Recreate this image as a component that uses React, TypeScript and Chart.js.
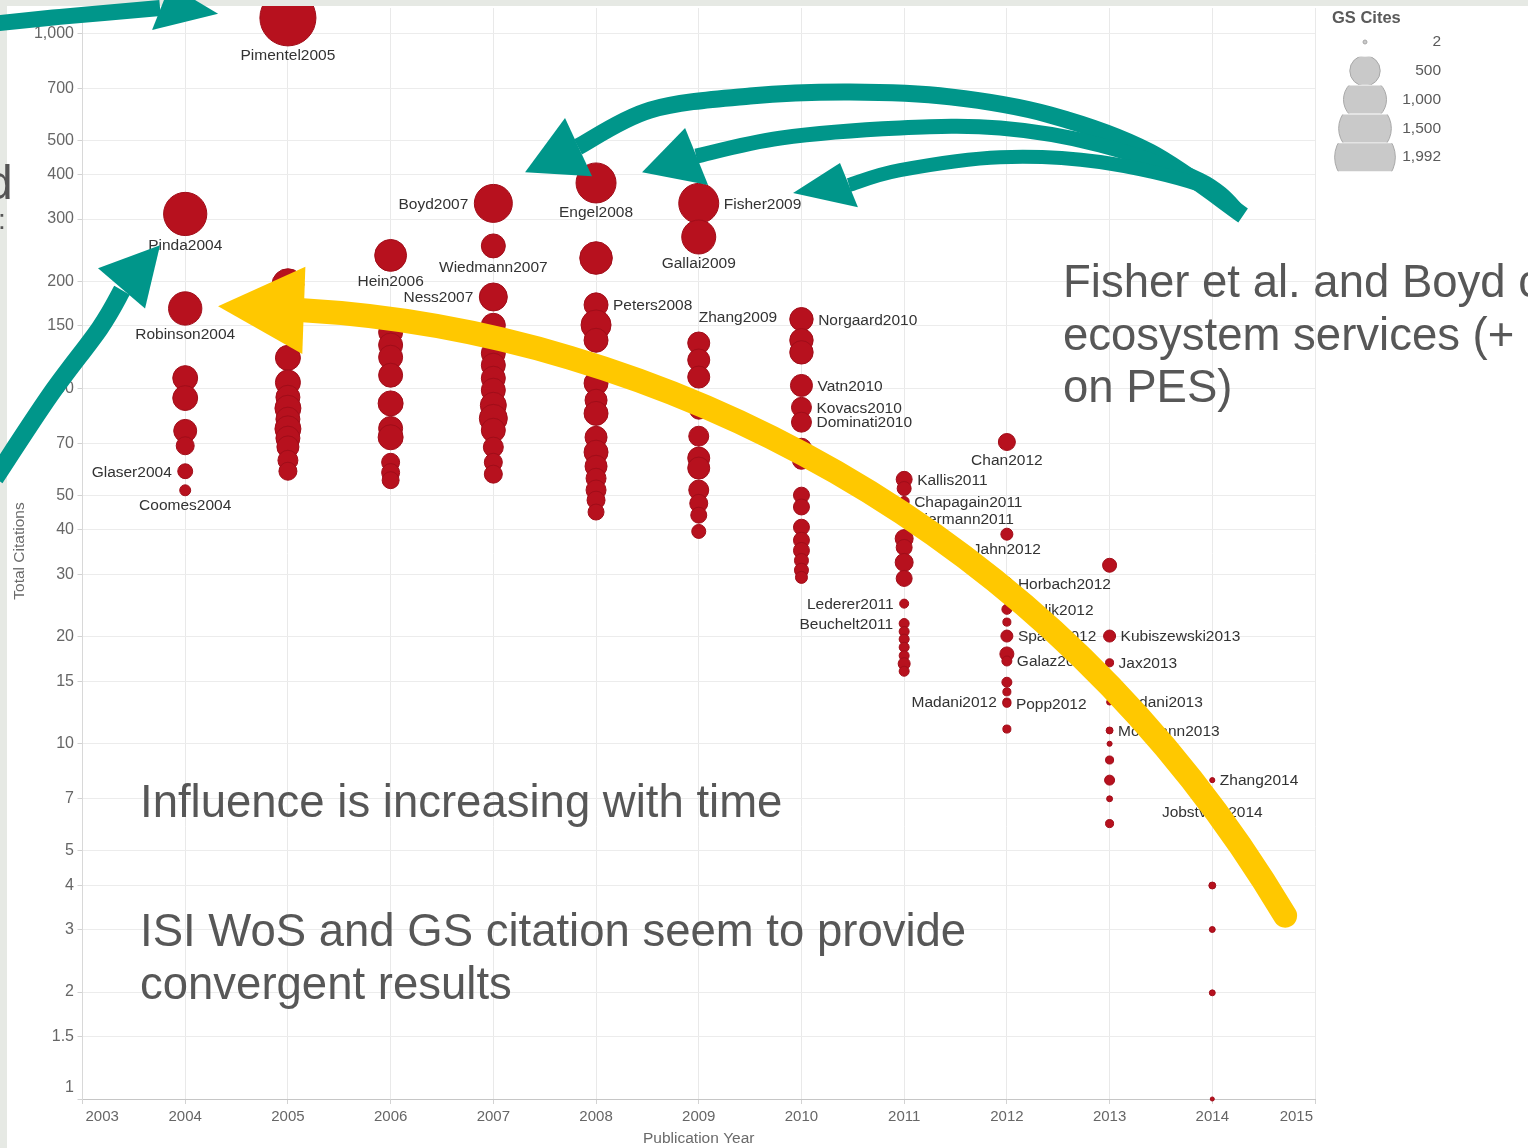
import React, { useEffect, useRef } from 'react';
import { Chart, registerables } from 'chart.js';

Chart.register(...registerables);

const FONT = '"Liberation Sans", Arial, Helvetica, sans-serif';

// ---- axes ----
const yearTicks = [2003, 2004, 2005, 2006, 2007, 2008, 2009, 2010, 2011, 2012, 2013, 2014, 2015];
const citationTicks = [1, 1.5, 2, 3, 4, 5, 7, 10, 15, 20, 30, 40, 50, 70, 100, 150, 200, 300, 400, 500, 700, 1000];
const legendGsCites = [2, 500, 1000, 1500, 1992];

// ---- data: total citations (ISI WoS) and GS cites per paper, by publication year ----
const cites2004 = [310, 168, 107, 94, 76, 69, 58.5, 51.7];
const gs2004 = [1010, 600, 335, 335, 285, 175, 120, 65];

const cites2005 = [1105, 196, 122, 104, 94.5, 88, 82, 77, 72.5, 68.5, 62.8, 58.5];
const gs2005 = [1700, 550, 338, 338, 311, 365, 311, 365, 311, 262, 216, 175];

const cites2006 = [237, 144, 132.5, 122.5, 109, 90.8, 77.2, 72.9, 62, 58, 55.2];
const gs2006 = [550, 311, 311, 311, 311, 338, 311, 338, 175, 175, 156];

const cites2007 = [332, 252, 181, 150.7, 136.7, 125.7, 116.3, 106.9, 98.9, 89.7, 82.4, 76.3, 68.4, 62, 57.4];
const gs2007 = [780, 311, 424, 311, 311, 311, 311, 311, 311, 365, 424, 311, 216, 175, 175];

const cites2008 = [379, 233, 172, 151, 136.7, 103.5, 92.7, 85.1, 72.9, 66.2, 60.4, 55.9, 51.8, 48.5, 44.9];
const gs2008 = [865, 575, 311, 487, 311, 311, 262, 311, 262, 311, 262, 216, 216, 175, 138];

const cites2009 = [332, 267, 134.3, 120.3, 107.7, 86.9, 73.4, 63.7, 59.7, 51.8, 47.5, 44, 39.6];
const gs2009 = [865, 625, 262, 262, 262, 175, 216, 262, 262, 216, 175, 138, 106];

const cites2010 = [156.7, 136.7, 126.4, 102, 88.5, 80.4, 67.9, 62.8, 50.1, 46.4, 40.7, 37.4, 35, 32.8, 30.8, 29.4];
const gs2010 = [296, 296, 296, 262, 216, 216, 216, 175, 138, 138, 138, 138, 138, 106, 106, 78];

const cites2011 = [55.5, 52.3, 48.1, 43.1, 37.8, 35.7, 32.4, 29.2, 24.8, 21.8, 20.7, 19.7, 18.7, 17.7, 16.8, 16.0];
const gs2011 = [138, 106, 54, 54, 175, 138, 175, 138, 44, 54, 54, 54, 54, 54, 78, 54];

const cites2012 = [70.7, 38.9, 28.3, 23.9, 22, 20.1, 17.9, 17.1, 14.9, 14, 13.1, 13.0, 11];
const gs2012 = [156, 78, 78, 54, 35, 78, 106, 54, 54, 35, 35, 35, 35];

const cites2013 = [31.8, 20.1, 16.9, 13.1, 10.9, 10, 9, 7.9, 7, 5.96];
const gs2013 = [106, 78, 35, 19, 26, 14, 35, 54, 19, 35];

const cites2014 = [7.9, 6.9, 3.99, 3, 1.99, 1.0];
const gs2014 = [14, 9, 26, 19, 19, 9];

const publicationYears = [2004, 2005, 2006, 2007, 2008, 2009, 2010, 2011, 2012, 2013, 2014];
const citesByYear = [cites2004, cites2005, cites2006, cites2007, cites2008, cites2009, cites2010, cites2011, cites2012, cites2013, cites2014];
const gsByYear = [gs2004, gs2005, gs2006, gs2007, gs2008, gs2009, gs2010, gs2011, gs2012, gs2013, gs2014];

// labelled papers: [year, index within that year, label]
const paperLabels: [number, number, string][] = [
  [2004, 0, 'Pinda2004'], [2004, 1, 'Robinson2004'], [2004, 6, 'Glaser2004'], [2004, 7, 'Coomes2004'],
  [2005, 0, 'Pimentel2005'],
  [2006, 0, 'Hein2006'],
  [2007, 0, 'Boyd2007'], [2007, 1, 'Wiedmann2007'], [2007, 2, 'Ness2007'],
  [2008, 0, 'Engel2008'], [2008, 2, 'Peters2008'],
  [2009, 0, 'Fisher2009'], [2009, 1, 'Gallai2009'], [2009, 2, 'Zhang2009'],
  [2010, 0, 'Norgaard2010'], [2010, 3, 'Vatn2010'], [2010, 4, 'Kovacs2010'], [2010, 5, 'Dominati2010'],
  [2011, 0, 'Kallis2011'], [2011, 2, 'Chapagain2011'], [2011, 3, 'Biermann2011'], [2011, 8, 'Lederer2011'], [2011, 9, 'Beuchelt2011'],
  [2012, 0, 'Chan2012'], [2012, 1, 'Jahn2012'], [2012, 2, 'Horbach2012'], [2012, 3, 'Pahlik2012'], [2012, 5, 'Spash2012'],
  [2012, 7, 'Galaz2012'], [2012, 10, 'Madani2012'], [2012, 11, 'Popp2012'],
  [2013, 1, 'Kubiszewski2013'], [2013, 2, 'Jax2013'], [2013, 3, 'Madani2013'], [2013, 4, 'Mollmann2013'],
  [2014, 0, 'Zhang2014'], [2014, 1, 'Jobstvogt2014'],
];

// label placement (style)
const labelSide: Record<string, string> = {
  Pinda2004: 'below', Robinson2004: 'below', Glaser2004: 'left', Coomes2004: 'below', Pimentel2005: 'below',
  Hein2006: 'below', Boyd2007: 'left', Wiedmann2007: 'below', Ness2007: 'left', Engel2008: 'below',
  Peters2008: 'right', Fisher2009: 'right', Gallai2009: 'below', Zhang2009: 'aboveRight',
  Norgaard2010: 'right', Vatn2010: 'right', Kovacs2010: 'right', Dominati2010: 'right',
  Kallis2011: 'right', Chapagain2011: 'right', Biermann2011: 'right', Lederer2011: 'left', Beuchelt2011: 'left',
  Chan2012: 'below', Jahn2012: 'below', Horbach2012: 'right', Pahlik2012: 'right', Spash2012: 'right',
  Galaz2012: 'right', Madani2012: 'left', Popp2012: 'right', Kubiszewski2013: 'right', Jax2013: 'right',
  Madani2013: 'right', Mollmann2013: 'right', Zhang2014: 'right', Jobstvogt2014: 'below',
};

// ---- annotation arrows, in data coordinates [year, citations] ----
// yellow: one cubic Bézier (start, control 1, control 2, end)
const yellowCurve: [number, number][] = [[2005.147, 166], [2008.526, 146], [2012.421, 42.6], [2014.709, 3.28]];
const yellowHead: [number, number][] = [[2004.32, 170.5], [2005.17, 220], [2005.14, 125]];

const tealTopShaft: [number, number][] = [[2002.1, 1062], [2002.78, 1112], [2003.755, 1178]];
const tealTopHead: [number, number][] = [[2004.32, 1134], [2003.677, 1022], [2003.852, 1368]];

const tealLeftShaft: [number, number][] = [[2002.148, 55.9], [2002.684, 95.8], [2003.17, 148], [2003.385, 189]];
const tealLeftHead: [number, number][] = [[2003.755, 253], [2003.151, 218], [2003.609, 168]];

const tealBigShaft: [number, number][] = [[2007.825, 479], [2008.526, 608], [2009.5, 666], [2010.473, 683], [2011.447, 662], [2012.421, 589], [2013.394, 463], [2014.3, 307]];
const tealBigHead: [number, number][] = [[2007.309, 406], [2007.698, 577], [2007.961, 396]];

const tealMidShaft: [number, number][] = [[2008.974, 451], [2009.792, 507], [2010.96, 541], [2011.934, 541], [2012.907, 485], [2013.881, 386], [2014.27, 312]];
const tealMidHead: [number, number][] = [[2008.448, 406], [2008.867, 541], [2009.091, 374]];

const tealLowShaft: [number, number][] = [[2010.462, 374], [2010.96, 412], [2011.934, 448], [2012.907, 434], [2013.881, 374], [2014.24, 318]];
const tealLowHead: [number, number][] = [[2009.918, 355], [2010.375, 431], [2010.55, 324]];

const TEAL = '#00968a';
const YELLOW = '#ffc800';

const bubbleRadius = (gs: number) => Math.max(2, 0.68 * Math.sqrt(gs));

function buildPoints() {
  const pts: { x: number; y: number; r: number }[] = [];
  publicationYears.forEach((yr, i) => {
    citesByYear[i].forEach((v, j) => {
      pts.push({ x: yr, y: v, r: bubbleRadius(gsByYear[i][j]) });
    });
  });
  return pts;
}

function drawArrow(chart: any, shaft: [number, number][], head: [number, number][], width: number, color: string, cap: CanvasLineCap, bezier = false) {
  const ctx: CanvasRenderingContext2D = chart.ctx;
  const xs = chart.scales.x;
  const ys = chart.scales.y;
  const toPx = (p: [number, number]) => [xs.getPixelForValue(p[0]), ys.getPixelForValue(p[1])];
  const pts = shaft.map(toPx);
  ctx.save();
  ctx.strokeStyle = color;
  ctx.lineWidth = width;
  ctx.lineCap = cap;
  ctx.lineJoin = 'round';
  ctx.beginPath();
  ctx.moveTo(pts[0][0], pts[0][1]);
  if (bezier) {
    ctx.bezierCurveTo(pts[1][0], pts[1][1], pts[2][0], pts[2][1], pts[3][0], pts[3][1]);
  } else {
    for (let i = 0; i < pts.length - 1; i++) {
      const p0 = pts[i - 1] || pts[i];
      const p1 = pts[i];
      const p2 = pts[i + 1];
      const p3 = pts[i + 2] || p2;
      ctx.bezierCurveTo(
        p1[0] + (p2[0] - p0[0]) / 6, p1[1] + (p2[1] - p0[1]) / 6,
        p2[0] - (p3[0] - p1[0]) / 6, p2[1] - (p3[1] - p1[1]) / 6,
        p2[0], p2[1]
      );
    }
  }
  ctx.stroke();
  const h = head.map(toPx);
  ctx.fillStyle = color;
  ctx.beginPath();
  ctx.moveTo(h[0][0], h[0][1]);
  ctx.lineTo(h[1][0], h[1][1]);
  ctx.lineTo(h[2][0], h[2][1]);
  ctx.closePath();
  ctx.fill();
  ctx.restore();
}

const overlayPlugin = {
  id: 'overlay',
  afterDatasetsDraw(chart: any) {
    const ctx: CanvasRenderingContext2D = chart.ctx;
    const xs = chart.scales.x;
    const ys = chart.scales.y;
    ctx.save();
    ctx.font = `15.5px ${FONT}`;
    ctx.fillStyle = '#333333';
    ctx.textBaseline = 'middle';
    for (const [yr, idx, name] of paperLabels) {
      const yi = publicationYears.indexOf(yr);
      const v = citesByYear[yi][idx];
      const r = bubbleRadius(gsByYear[yi][idx]);
      const cx = xs.getPixelForValue(yr);
      const cy = ys.getPixelForValue(v);
      const side = labelSide[name] || 'right';
      if (side === 'below') {
        ctx.textAlign = 'center';
        ctx.fillText(name, cx, cy + r + 10);
      } else if (side === 'left') {
        ctx.textAlign = 'right';
        ctx.fillText(name, cx - r - 6, cy + 1);
      } else if (side === 'aboveRight') {
        ctx.textAlign = 'left';
        ctx.fillText(name, cx, cy - r - 14);
      } else {
        ctx.textAlign = 'left';
        ctx.fillText(name, cx + r + 5, cy + 1);
      }
    }
    ctx.restore();
  },
  afterDraw(chart: any) {
    const ctx: CanvasRenderingContext2D = chart.ctx;
    const xs = chart.scales.x;
    const ys = chart.scales.y;
    const area = chart.chartArea;
    ctx.save();
    // y tick labels
    ctx.font = `16px ${FONT}`;
    ctx.fillStyle = '#666666';
    ctx.textAlign = 'right';
    ctx.textBaseline = 'middle';
    citationTicks.forEach((v) => {
      let py = ys.getPixelForValue(v);
      if (py > area.bottom - 8) py = area.bottom - 11;
      ctx.fillText(v >= 1000 ? v.toLocaleString('en-US') : String(v), 74, py);
    });
    // x tick labels
    ctx.font = `15px ${FONT}`;
    ctx.textAlign = 'center';
    yearTicks.forEach((yr) => {
      const label = String(yr);
      const w = ctx.measureText(label).width;
      let cx = xs.getPixelForValue(yr);
      if (cx - w / 2 < area.left + 3) cx = area.left + 3 + w / 2;
      if (cx + w / 2 > area.right - 2) cx = area.right - 2 - w / 2;
      ctx.fillText(label, cx, 1117);
    });
    // axis titles
    ctx.font = `15.5px ${FONT}`;
    ctx.fillStyle = '#6a6a6a';
    ctx.fillText('Publication Year', (area.left + area.right) / 2, 1139);
    ctx.save();
    ctx.translate(20, 551);
    ctx.rotate(-Math.PI / 2);
    ctx.fillText('Total Citations', 0, 0);
    ctx.restore();

    // legend
    ctx.font = `bold 16.5px ${FONT}`;
    ctx.fillStyle = '#5a5a5a';
    ctx.textAlign = 'left';
    ctx.fillText('GS Cites', 1332, 18);
    legendGsCites.forEach((g, i) => {
      const cy = 42 + i * 28.8;
      const r = bubbleRadius(g);
      ctx.save();
      ctx.beginPath();
      ctx.rect(1320, cy - 14, 100, 28);
      ctx.clip();
      ctx.beginPath();
      ctx.arc(1365, cy, r, 0, Math.PI * 2);
      ctx.fillStyle = '#c9c9c9';
      ctx.fill();
      ctx.strokeStyle = '#a8a8a8';
      ctx.lineWidth = 1;
      ctx.stroke();
      ctx.restore();
      ctx.font = `15.5px ${FONT}`;
      ctx.fillStyle = '#5a5a5a';
      ctx.textAlign = 'right';
      ctx.fillText(g.toLocaleString('en-US'), 1441, cy);
      ctx.textAlign = 'left';
    });

    // slide frame bands
    ctx.fillStyle = '#e6e9e4';
    ctx.fillRect(0, 0, 1528, 6);
    ctx.fillRect(0, 0, 7, 1148);
    ctx.restore();

    // arrows
    drawArrow(chart, yellowCurve, yellowHead, 24, YELLOW, 'round', true);
    drawArrow(chart, tealBigShaft, tealBigHead, 17, TEAL, 'butt');
    drawArrow(chart, tealMidShaft, tealMidHead, 15, TEAL, 'butt');
    drawArrow(chart, tealLowShaft, tealLowHead, 14, TEAL, 'butt');
    drawArrow(chart, tealLeftShaft, tealLeftHead, 18, TEAL, 'butt');
    drawArrow(chart, tealTopShaft, tealTopHead, 16, TEAL, 'butt');
  },
};

const bigText = (left: number, top: number): React.CSSProperties => ({
  position: 'absolute',
  left,
  top,
  fontFamily: FONT,
  fontSize: 45.5,
  lineHeight: '52.5px',
  color: '#575757',
  whiteSpace: 'pre',
});

export default function App() {
  const ref = useRef<HTMLCanvasElement>(null);
  useEffect(() => {
    const canvas = ref.current;
    if (!canvas) return;
    const chart = new Chart(canvas, {
      type: 'bubble',
      data: {
        datasets: [
          {
            data: buildPoints(),
            backgroundColor: '#b7111e',
            borderColor: '#a00d19',
            borderWidth: 1,
            clip: false as any,
          },
        ],
      },
      options: {
        responsive: false,
        animation: false,
        events: [],
        layout: { padding: { left: 0, right: 213, top: 8, bottom: 0 }, autoPadding: false },
        plugins: { legend: { display: false }, tooltip: { enabled: false } },
        scales: {
          x: {
            type: 'linear',
            min: 2003,
            max: 2015,
            bounds: 'data',
            afterBuildTicks: (s: any) => { s.ticks = yearTicks.map((v) => ({ value: v })); },
            afterFit: (s: any) => { s.height = 49; },
            ticks: { display: false },
            grid: { color: '#e9e9e9', tickLength: 5, tickColor: '#d2d2d2' },
            border: { color: '#c6c6c6' },
          },
          y: {
            type: 'logarithmic',
            min: 1,
            max: 1178,
            bounds: 'data',
            afterBuildTicks: (s: any) => { s.ticks = citationTicks.map((v) => ({ value: v })); },
            afterFit: (s: any) => { s.width = 82.5; },
            ticks: { display: false },
            grid: { color: '#ececec', tickLength: 5, tickColor: '#d2d2d2' },
            border: { color: '#d8d8d8' },
          },
        },
      } as any,
      plugins: [overlayPlugin],
    });
    return () => chart.destroy();
  }, []);

  return (
    <div style={{ position: 'fixed', left: 0, top: 0, width: 1528, height: 1148, background: '#ffffff', overflow: 'hidden' }}>
      <canvas ref={ref} width={1528} height={1148} style={{ position: 'absolute', left: 0, top: 0 }} />
      <div style={{ ...bigText(1063, 256) }}>{'Fisher et al. and Boyd c\necosystem services (+\non PES)'}</div>
      <div style={{ ...bigText(140, 776) }}>{'Influence is increasing with time'}</div>
      <div style={{ ...bigText(140, 904), lineHeight: '53px' }}>{'ISI WoS and GS citation seem to provide\nconvergent results'}</div>
      <div style={{ position: 'absolute', left: -14, top: 159, fontFamily: FONT, fontSize: 48, lineHeight: '48px', color: '#555' }}>d</div>
      <div style={{ position: 'absolute', left: -2, top: 206, fontFamily: FONT, fontSize: 28, lineHeight: '28px', color: '#555' }}>:</div>
    </div>
  );
}
